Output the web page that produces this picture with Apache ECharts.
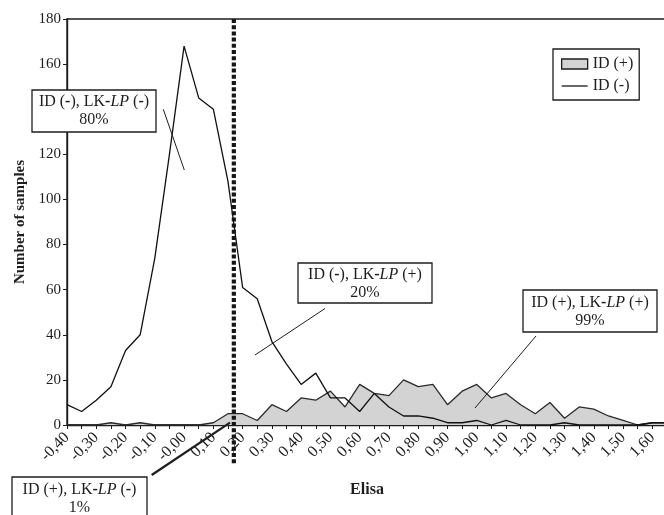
<!DOCTYPE html>
<html><head><meta charset="utf-8">
<script src="https://cdn.jsdelivr.net/npm/echarts@6/dist/echarts.min.js"></script>
<style>html,body{margin:0;padding:0;background:#fff}#c{width:664px;height:515px}</style>
</head><body><div id="c"></div>
<script>
const elisa = [-0.40,-0.35,-0.30,-0.25,-0.20,-0.15,-0.10,-0.05,0.00,0.05,0.10,0.15,0.20,0.25,0.30,0.35,0.40,0.45,0.50,0.55,0.60,0.65,0.70,0.75,0.80,0.85,0.90,0.95,1.00,1.05,1.10,1.15,1.20,1.25,1.30,1.35,1.40,1.45,1.50,1.55,1.60,1.65];
const idNeg = [9,6,11,17,33,40,74,120,168,145,140,108,61,56,37,27,18,23,12,12,6,14,8,4,4,3,1,1,2,0,2,0,0,0,1,0,0,0,0,0,1,1];
const idPos = [0,0,0,1,0,1,0,0,0,0,1,5,5,2,9,6,12,11,15,8,18,14,13,20,17,18,9,15,18,12,14,9,5,10,3,8,7,4,2,0,1,1];
const tickLabels = ["-0,40","-0,30","-0,20","-0,10","-0,00","0,10","0,20","0,30","0,40","0,50","0,60","0,70","0,80","0,90","1,00","1,10","1,20","1,30","1,40","1,50","1,60"];
const cutoff = 0.17;
const seriesNames = ["ID (+)", "ID (-)"];

const FONT = 'Liberation Serif';
const INK = '#1e1e1e';
const chart = echarts.init(document.getElementById('c'), null, {renderer: 'canvas'});
const pairs = ys => elisa.map((x, i) => [x, ys[i]]);

const option = {
  animation: false,
  backgroundColor: '#fff',
  grid: {left: 67, width: 600, top: 19, height: 406, outerBoundsMode: 'none', containLabel: false,
         show: true, borderColor: INK, borderWidth: 1.4},
  xAxis: {
    type: 'value', min: -0.4, max: 1.65, interval: 0.05,
    name: 'Elisa', nameLocation: 'middle', nameGap: 57,
    nameTextStyle: {fontFamily: FONT, fontWeight: 'bold', fontSize: 16, color: INK},
    axisLine: {onZero: false, lineStyle: {color: INK, width: 1.4}},
    axisTick: {length: 4, lineStyle: {color: INK}},
    splitLine: {show: false},
    axisLabel: {
      rotate: 45, margin: 10, fontFamily: FONT, fontSize: 16, color: INK, hideOverlap: false,
      formatter: v => { const k = Math.round((v - elisa[0]) / 0.05); return k % 2 === 0 ? (tickLabels[k / 2] || '') : ''; }
    }
  },
  yAxis: {
    type: 'value', min: 0, max: 180, interval: 20,
    name: 'Number of samples', nameLocation: 'middle', nameGap: 38, nameRotate: 90,
    nameTextStyle: {fontFamily: FONT, fontWeight: 'bold', fontSize: 15, color: INK},
    axisLine: {show: true, onZero: false, lineStyle: {color: INK, width: 1.4}},
    axisTick: {show: true, length: 4, lineStyle: {color: INK}},
    splitLine: {show: false},
    axisLabel: {margin: 6, fontFamily: FONT, fontSize: 15, color: INK}
  },
  legend: {
    orient: 'vertical', left: 553, top: 49,
    itemWidth: 26, itemHeight: 10, itemGap: 6, padding: [7, 6, 6, 8],
    borderColor: INK, borderWidth: 1.3, backgroundColor: '#fff',
    textStyle: {fontFamily: FONT, fontSize: 16, color: INK},
    data: [
      {name: seriesNames[0], icon: 'rect', itemStyle: {color: '#d3d3d3', borderColor: INK, borderWidth: 1.3}},
      {name: seriesNames[1], icon: 'path://M0,0H26V1.6H0Z', itemStyle: {color: '#444', borderWidth: 0}}
    ]
  },
  series: [
    {name: seriesNames[0], type: 'line', data: pairs(idPos), symbol: 'none', z: 2,
     lineStyle: {color: '#2a2a2a', width: 1.3}, itemStyle: {color: '#d3d3d3'},
     areaStyle: {color: '#d3d3d3', opacity: 1}},
    {name: seriesNames[1], type: 'line', data: pairs(idNeg), symbol: 'none', z: 3,
     lineStyle: {color: '#111', width: 1.3}, itemStyle: {color: '#444'}}
  ]
};
chart.setOption(option);

const cutTop = chart.convertToPixel({gridIndex: 0}, [cutoff, 180]);
const cutBot = chart.convertToPixel({gridIndex: 0}, [cutoff, -18]);

const rich = {
  n: {fontFamily: FONT, fontSize: 16, fill: INK, lineHeight: 18},
  b: {fontFamily: FONT, fontSize: 16, fontWeight: 'bold', fill: INK, lineHeight: 18},
  i: {fontFamily: FONT, fontSize: 16, fontStyle: 'italic', fill: INK, lineHeight: 18}
};
function label(sign1, sign2) {
  const s = c => c === '-' ? '{b|-}' : '{n|' + c + '}';
  return '{n|ID (}' + s(sign1) + '{n|), LK}{b|-}{i|LP}{n| (}' + s(sign2) + '{n|)}';
}
function box(x, y, w, h, cy, l1, l2) {
  return [
    {type: 'rect', z: 100, shape: {x: x, y: y, width: w, height: h}, style: {fill: '#fff', stroke: INK, lineWidth: 1.3}},
    {type: 'text', z: 101, x: x + w / 2, y: cy, style: {text: l1 + '\n{n|' + l2 + '}', rich: rich, align: 'center', verticalAlign: 'middle', textAlign: 'center', textVerticalAlign: 'middle'}}
  ];
}
function pointer(x1, y1, x2, y2, w) {
  return {type: 'line', z: 99, shape: {x1, y1, x2, y2}, style: {stroke: INK, lineWidth: w}};
}

chart.setOption({
  graphic: [
    {type: 'line', z: 50, shape: {x1: cutTop[0], y1: cutTop[1], x2: cutBot[0], y2: cutBot[1]},
     style: {stroke: '#151515', lineWidth: 4.2, lineDash: [4, 2.2]}},
    ...box(32, 90, 124, 42, 111, label('-', '-'), '80%'),
    pointer(163.3, 109.3, 184.3, 170, 1),
    ...box(298, 263, 134, 40, 284, label('-', '+'), '20%'),
    pointer(255, 355, 325, 308.5, 1),
    ...box(523, 290, 134, 42, 312, label('+', '+'), '99%'),
    pointer(536, 336, 475, 408, 1),
    ...box(12, 477, 135, 48, 499, label('+', '-'), '1%'),
    pointer(151.7, 475, 230, 422.7, 2.2)
  ]
});
</script>
</body></html>
